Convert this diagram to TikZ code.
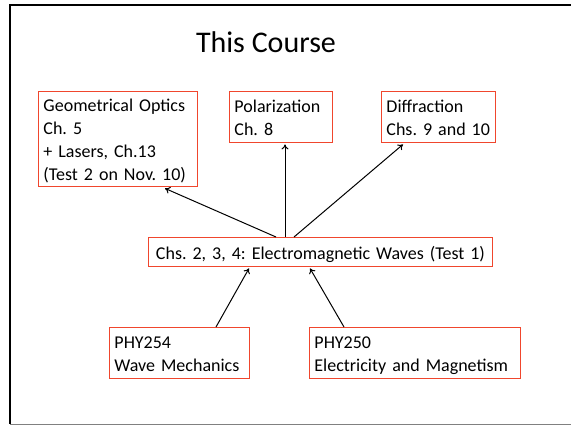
\documentclass[tikz,border=0pt]{standalone}
\usepackage{fontspec}
\setmainfont{Carlito}
\usetikzlibrary{arrows.meta}
\definecolor{boxred}{RGB}{240,70,45}
\newcommand\ls{\rule[-4.4pt]{0pt}{23pt}}
\begin{document}
\begin{tikzpicture}[x=1pt,y=-1pt,
  cbox/.style={draw=boxred, line width=0.9pt, anchor=north west, inner xsep=5pt, inner ysep=0pt,
    align=left, font=\fontsize{18}{23}\selectfont\frenchspacing},
  conn/.style={-{To[length=5pt,width=7pt]}, line width=1pt, black}]
\useasboundingbox (0,0) rectangle (571,426);
\fill[white] (0,0) rectangle (571,426);
% frame
\draw[line width=1.6pt, black] (571,5) -- (10,5) -- (10,424);
\draw[line width=1pt, gray] (10,424) -- (571,424);
% title
\node[font=\fontsize{30}{36}\selectfont] (title) at (266,42) {This Course};
% boxes
\node[cbox, minimum width=159pt, minimum height=95pt, text width=149pt] (geo) at (38,91)
  {\ls Geometrical Optics\\\ls Ch. 5\\\ls + Lasers, Ch.13\\\ls (Test 2 on Nov. 10)};
\node[cbox, minimum width=103pt, minimum height=51pt, text width=93pt] (pol) at (229,91)
  {\ls Polarization\\\ls Ch. 8};
\node[cbox, minimum width=114pt, minimum height=51pt, text width=104pt] (dif) at (381,91)
  {\ls Diffraction\\\ls Chs. 9 and 10};
\node[cbox, minimum width=344pt, minimum height=29pt, text width=334pt, align=center] (mid) at (148,237)
  {\ls Chs. 2, 3, 4: Electromagnetic Waves (Test 1)};
\node[cbox, minimum width=140pt, minimum height=51pt, text width=130pt] (p254) at (109,327)
  {\ls PHY254\\\ls Wave Mechanics};
\node[cbox, minimum width=211pt, minimum height=51pt, text width=201pt] (p250) at (309,327)
  {\ls PHY250\\\ls Electricity and Magnetism};
% connectors
\draw[conn] ([xshift=128pt]mid.north west) -- ([xshift=127pt,yshift=-1.5pt]geo.south west);
\draw[conn] ([xshift=137pt]mid.north west) -- ([xshift=56pt,yshift=-1.5pt]pol.south west);
\draw[conn] ([xshift=146pt]mid.north west) -- ([xshift=22pt,yshift=-1.5pt]dif.south west);
\draw[conn] ([xshift=107pt]p254.north west) -- ([xshift=101pt,yshift=-1.5pt]mid.south west);
\draw[conn] ([xshift=35pt]p250.north west) -- ([xshift=162pt,yshift=-1.5pt]mid.south west);
\end{tikzpicture}
\end{document}
